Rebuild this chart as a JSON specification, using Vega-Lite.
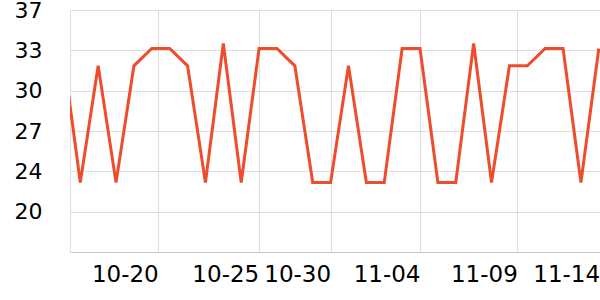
{
  "$schema": "https://vega.github.io/schema/vega-lite/v6.json",
  "width": 530,
  "height": 242,
  "autosize": "none",
  "padding": {"left": 70, "top": 10, "right": 0, "bottom": 48},
  "config": {
    "view": {"stroke": null},
    "font": "DejaVu Sans"
  },
  "data": {
    "values": [
      {"date": "2023-10-15", "value": 33.5},
      {"date": "2023-10-16", "value": 22.7},
      {"date": "2023-10-17", "value": 32.1},
      {"date": "2023-10-18", "value": 22.7},
      {"date": "2023-10-19", "value": 32.1},
      {"date": "2023-10-20", "value": 33.5},
      {"date": "2023-10-21", "value": 33.5},
      {"date": "2023-10-22", "value": 32.1},
      {"date": "2023-10-23", "value": 22.7},
      {"date": "2023-10-24", "value": 33.9},
      {"date": "2023-10-25", "value": 22.7},
      {"date": "2023-10-26", "value": 33.5},
      {"date": "2023-10-27", "value": 33.5},
      {"date": "2023-10-28", "value": 32.1},
      {"date": "2023-10-29", "value": 22.7},
      {"date": "2023-10-30", "value": 22.7},
      {"date": "2023-10-31", "value": 32.1},
      {"date": "2023-11-01", "value": 22.7},
      {"date": "2023-11-02", "value": 22.7},
      {"date": "2023-11-03", "value": 33.5},
      {"date": "2023-11-04", "value": 33.5},
      {"date": "2023-11-05", "value": 22.7},
      {"date": "2023-11-06", "value": 22.7},
      {"date": "2023-11-07", "value": 33.9},
      {"date": "2023-11-08", "value": 22.7},
      {"date": "2023-11-09", "value": 32.1},
      {"date": "2023-11-10", "value": 32.1},
      {"date": "2023-11-11", "value": 33.5},
      {"date": "2023-11-12", "value": 33.5},
      {"date": "2023-11-13", "value": 22.7},
      {"date": "2023-11-14", "value": 33.5}
    ]
  },
  "mark": {"type": "line", "clip": true, "color": "#ee4d2d", "strokeWidth": 3, "strokeJoin": "miter"},
  "encoding": {
    "x": {
      "field": "date",
      "type": "temporal",
      "scale": {
        "type": "utc",
        "domain": [
          {"year": 2023, "month": 10, "date": 15, "hours": 10, "minutes": 12, "utc": true},
          {"year": 2023, "month": 11, "date": 14, "hours": 1, "minutes": 36, "utc": true}
        ],
        "nice": false
      },
      "axis": {
        "title": null,
        "values": [
          {"year": 2023, "month": 10, "date": 20, "hours": 8, "minutes": 38, "utc": true},
          {"year": 2023, "month": 10, "date": 25, "hours": 23, "minutes": 30, "utc": true},
          {"year": 2023, "month": 10, "date": 30, "hours": 0, "minutes": 0, "utc": true},
          {"year": 2023, "month": 11, "date": 4, "hours": 0, "minutes": 0, "utc": true},
          {"year": 2023, "month": 11, "date": 9, "hours": 10, "minutes": 34, "utc": true},
          {"year": 2023, "month": 11, "date": 14, "hours": 1, "minutes": 5, "utc": true}
        ],
        "format": "%m-%d",
        "labelAlign": "right",
        "labelBaseline": "top",
        "labelFlush": false,
        "labelOverlap": false,
        "labelFontSize": 23,
        "labelColor": "#000000",
        "labelPadding": 11,
        "labelDx": -1,
        "ticks": false,
        "grid": true,
        "gridColor": "#dddddd",
        "gridWidth": 1,
        "domainColor": "#c8c8c8",
        "domainWidth": 1
      }
    },
    "y": {
      "field": "value",
      "type": "quantitative",
      "scale": {"domain": [17.1, 36.6], "nice": false, "zero": false},
      "axis": {
        "title": null,
        "values": [20.35, 23.6, 26.85, 30.1, 33.35, 36.6],
        "format": ".0f",
        "labelFontSize": 22,
        "labelColor": "#000000",
        "labelPadding": 28,
        "labelDy": 1,
        "ticks": false,
        "grid": true,
        "gridColor": "#dddddd",
        "gridWidth": 1,
        "domain": true,
        "domainColor": "#dddddd",
        "domainWidth": 1
      }
    }
  }
}
